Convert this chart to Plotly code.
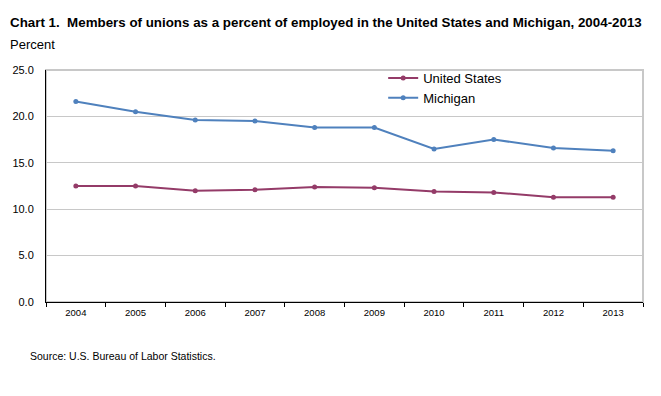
import plotly.graph_objects as go

years = ["2004", "2005", "2006", "2007", "2008", "2009", "2010", "2011", "2012", "2013"]
united_states = [12.5, 12.5, 12.0, 12.1, 12.4, 12.3, 11.9, 11.8, 11.3, 11.3]
michigan = [21.6, 20.5, 19.6, 19.5, 18.8, 18.8, 16.5, 17.5, 16.6, 16.3]
y_ticks = [0, 5, 10, 15, 20, 25]
y_tick_labels = ["0.0", "5.0", "10.0", "15.0", "20.0", "25.0"]

US_COLOR = "#943B68"
MI_COLOR = "#4F81BD"
FONT = "Liberation Sans, Arial, sans-serif"

fig = go.Figure()
fig.add_trace(go.Scatter(
    x=years, y=united_states, name="United States", mode="lines+markers",
    line=dict(color=US_COLOR, width=2), marker=dict(color=US_COLOR, size=5),
))
fig.add_trace(go.Scatter(
    x=years, y=michigan, name="Michigan", mode="lines+markers",
    line=dict(color=MI_COLOR, width=2), marker=dict(color=MI_COLOR, size=5),
))

fig.update_layout(
    width=661, height=396,
    margin=dict(l=41, r=18, t=70, b=94),
    paper_bgcolor="white", plot_bgcolor="white",
    font=dict(family=FONT, color="black"),
    showlegend=True,
    legend=dict(
        x=(381 - 41) / 602, y=1 + 7 / 232, xanchor="left", yanchor="top",
        bgcolor="rgba(0,0,0,0)", font=dict(size=13, family=FONT),
        itemwidth=30, tracegroupgap=0,
    ),
    xaxis=dict(
        type="category", range=[-0.5, 9.5],
        tickson="boundaries", ticks="outside", ticklen=4, tickcolor="black",
        showline=True, linecolor="black", linewidth=1,
        showgrid=False, tickfont=dict(size=9.5, family=FONT), ticklabelstandoff=2,
        fixedrange=True,
    ),
    yaxis=dict(
        range=[0, 25], tickvals=y_ticks, ticktext=y_tick_labels,
        showline=True, linecolor="black", linewidth=1,
        showgrid=True, gridcolor="#C8C8C8", gridwidth=1,
        ticks="", tickfont=dict(size=11, family=FONT), ticklabelstandoff=9,
        zeroline=False, fixedrange=True,
    ),
    shapes=[dict(
        type="rect", xref="paper", yref="paper", x0=0, x1=1, y0=0, y1=1,
        line=dict(color="#C8C8C8", width=2), layer="below",
    )],
    annotations=[
        dict(text="<b>Chart 1.  Members of unions as a percent of employed in the United States and Michigan, 2004-2013</b>",
             xref="paper", yref="paper", x=-38 / 602, y=1 + 48 / 232, xanchor="left", yanchor="middle",
             showarrow=False, font=dict(size=13.35, family=FONT)),
        dict(text="Percent", xref="paper", yref="paper", x=-38 / 602, y=1 + 25 / 232,
             xanchor="left", yanchor="middle", showarrow=False, font=dict(size=13, family=FONT)),
        dict(text="Source: U.S. Bureau of Labor Statistics.", xref="paper", yref="paper",
             x=-18 / 602, y=-54 / 232, xanchor="left", yanchor="middle", showarrow=False,
             font=dict(size=10.5, family=FONT)),
    ],
)

fig.write_html("out.html", config={"displayModeBar": False},
               post_script="document.body.style.margin='0';")
